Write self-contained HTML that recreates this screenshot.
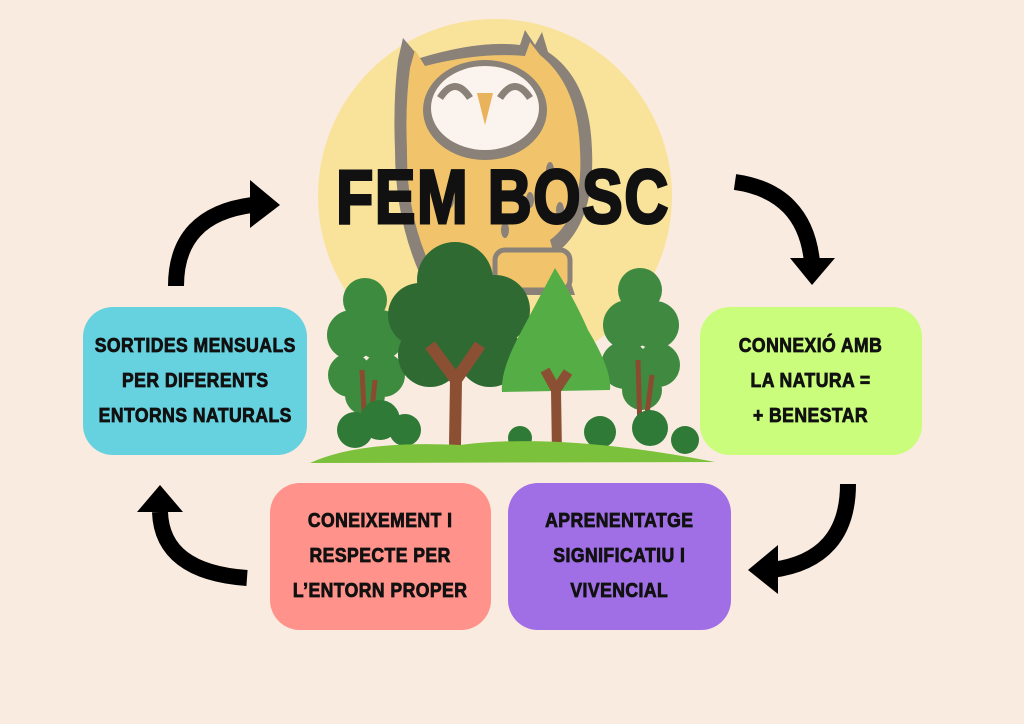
<!DOCTYPE html>
<html><head><meta charset="utf-8"><style>
html,body{margin:0;padding:0}
body{width:1024px;height:724px;background:#f9ebdf;position:relative;overflow:hidden;font-family:"Liberation Sans",sans-serif}
.box{position:absolute;border-radius:30px;display:flex;align-items:center;justify-content:center;text-align:center;font-weight:900;font-size:20px;line-height:35px;color:#111;letter-spacing:0.5px;-webkit-text-stroke:0.8px #111}
.box span{display:inline-block;transform:scaleX(0.88);white-space:nowrap}
</style></head><body>
<svg width="1024" height="724" style="position:absolute;left:0;top:0">
<circle cx="495" cy="196" r="177" fill="#f9e39b"/>
<!-- owl -->
<g>
<path d="M398 60 L403 38 L420 58 Q480 40 520 45 L525 30 L535 45 L542 32 L548 52 Q590 80 592 150 Q595 220 560 250 L575 295 L430 295 Q395 230 395 150 Q393 100 398 60Z" fill="#8a8178"/>
<path d="M410 68 L415 50 L425 66 Q480 52 525 56 L530 42 L540 55 Q578 85 580 150 Q584 215 550 240 L562 283 L440 285 Q406 225 407 150 Q405 105 410 68Z" fill="#f1c46c"/>
<ellipse cx="485" cy="110" rx="62" ry="50" fill="#8a8178"/>
<ellipse cx="485" cy="108" rx="54" ry="42" fill="#fbf3ee"/>
<path d="M440 98 Q455 75 470 98" stroke="#8a8178" stroke-width="7" fill="none"/>
<path d="M500 98 Q515 75 530 98" stroke="#8a8178" stroke-width="7" fill="none"/>
<path d="M477 93 L493 93 L485 125Z" fill="#e8b35b"/>
<g fill="#8a8178"><ellipse cx="550" cy="170" rx="4" ry="8"/><ellipse cx="530" cy="200" rx="4" ry="8"/><ellipse cx="560" cy="210" rx="4" ry="8"/><ellipse cx="450" cy="200" rx="4" ry="8"/><ellipse cx="505" cy="230" rx="4" ry="8"/></g>
<rect x="495" y="250" width="75" height="40" rx="10" fill="#f1c46c" stroke="#8a8178" stroke-width="5"/>
</g>
<text x="0" y="0" text-anchor="middle" font-family="Liberation Sans" font-weight="900" font-size="76" fill="#111" stroke="#111" stroke-width="3" letter-spacing="2" transform="translate(503 223) scale(0.8 1)">FEM BOSC</text>
<!-- trees -->
<g fill="#3c8b3f"><circle cx="365" cy="300" r="22"/><circle cx="352" cy="335" r="25"/><circle cx="380" cy="335" r="25"/><circle cx="350" cy="375" r="22"/><circle cx="383" cy="375" r="22"/><circle cx="365" cy="395" r="20"/></g>
<path d="M365 430 L362 370 M370 430 L375 380" stroke="#8a4b32" stroke-width="5"/>
<g fill="#2f6a33"><circle cx="455" cy="280" r="38"/><circle cx="420" cy="315" r="32"/><circle cx="495" cy="310" r="35"/><circle cx="430" cy="355" r="32"/><circle cx="490" cy="355" r="32"/><circle cx="460" cy="340" r="35"/></g>
<path d="M455 445 L456 380 L430 345 M456 380 L480 345" stroke="#8b4f34" stroke-width="12" fill="none" stroke-linejoin="round"/>
<g fill="#3f8a40"><circle cx="640" cy="290" r="22"/><circle cx="628" cy="325" r="25"/><circle cx="655" cy="325" r="24"/><circle cx="625" cy="365" r="24"/><circle cx="658" cy="365" r="22"/><circle cx="642" cy="390" r="20"/></g>
<path d="M640 430 L638 360 M645 430 L652 375" stroke="#8a4b32" stroke-width="5"/>
<path d="M555 268 Q575 300 588 330 Q612 370 610 390 L502 392 Q500 370 522 330 Q538 300 555 268Z" fill="#55ad45"/>
<path d="M557 455 L556 390 L545 370 M556 390 L568 372" stroke="#8b4f34" stroke-width="10" fill="none"/>
<g fill="#2f7a36"><circle cx="355" cy="430" r="18"/><circle cx="380" cy="420" r="20"/><circle cx="405" cy="430" r="16"/><circle cx="520" cy="438" r="12"/><circle cx="600" cy="432" r="16"/><circle cx="650" cy="428" r="18"/><circle cx="685" cy="440" r="14"/></g>
<path d="M310 463 Q360 440 460 445 Q560 432 715 462 Z" fill="#7cc13b"/>
<!-- arrows -->
<g fill="none" stroke="#000" stroke-width="16">
<path d="M176 286 Q176 215 252 205"/>
<path d="M735 182 Q805 192 812 262"/>
<path d="M848 484 Q848 560 772 570"/>
<path d="M247 578 Q162 572 160 512"/>
</g>
<g fill="#000">
<path d="M250 180 L280 205 L250 228Z"/>
<path d="M790 258 L835 258 L812 285Z"/>
<path d="M778 545 L748 570 L778 594Z"/>
<path d="M137 512 L183 512 L160 485Z"/>
</g>
</svg>
<div class="box" style="left:83px;top:307px;width:224px;height:148px;background:#66d1df"><span>SORTIDES MENSUALS<br>PER DIFERENTS<br>ENTORNS NATURALS</span></div>
<div class="box" style="left:700px;top:307px;width:222px;height:148px;background:#c9fd7b"><span>CONNEXIÓ AMB<br>LA NATURA =<br>+ BENESTAR</span></div>
<div class="box" style="left:270px;top:483px;width:221px;height:147px;background:#ff928a"><span>CONEIXEMENT I<br>RESPECTE PER<br>L’ENTORN PROPER</span></div>
<div class="box" style="left:508px;top:483px;width:223px;height:147px;background:#a06ee5"><span>APRENENTATGE<br>SIGNIFICATIU I<br>VIVENCIAL</span></div>
</body></html>
